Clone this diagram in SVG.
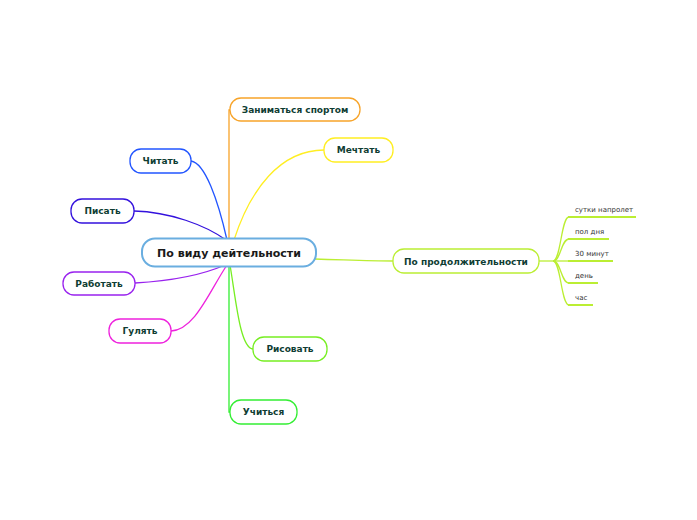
<svg xmlns="http://www.w3.org/2000/svg" width="697" height="520" viewBox="0 0 697 520">
<style>
.n{fill:#fff;stroke-width:1.3}
.t{font-family:"DejaVu Sans",Verdana,sans-serif;font-weight:bold;font-size:9px;fill:#0f3d33;text-anchor:middle}
.s{font-family:"DejaVu Sans",Verdana,sans-serif;font-size:7px;fill:#333}
.c{fill:none;stroke-width:1.3}
</style>
<rect width="697" height="520" fill="#fff"/>
<g id="connectors">
<path class="c" stroke="#f7a42a" stroke-width="2" d="M229 240 V110 H231"/>
<path class="c" stroke="#ffee22" d="M234 240 C250 190 280 150 324 150"/>
<path class="c" stroke="#2255ff" d="M191 161 C205 163 218 200 227 240"/>
<path class="c" stroke="#3311dd" d="M134 211 C170 212 205 225 226 240"/>
<path class="c" stroke="#9922ee" d="M135 283 C170 281 200 276 225 265"/>
<path class="c" stroke="#ee22dd" d="M171 331 C195 330 210 290 227 265"/>
<path class="c" stroke="#77ee22" d="M230 265 C236 300 240 348 253 349"/>
<path class="c" stroke="#33ee33" stroke-width="2" d="M229 265 V412 H231"/>
<path class="c" stroke="#bbee33" d="M315 259 C350 260 370 261 393 261"/>
<g stroke="#bbee33" class="c">
<path d="M539 261 H553"/>
<path d="M553 261 C561 261 561 217 569 217"/>
<path d="M553 261 C561 261 561 239 569 239"/>
<path d="M553 261 H569"/>
<path d="M553 261 C561 261 561 283 569 283"/>
<path d="M553 261 C561 261 561 305 569 305"/>
</g>
<g stroke="#bbee33" stroke-width="2" fill="none">
<path d="M568 217 H636"/>
<path d="M568 239 H609"/>
<path d="M568 261 H613"/>
<path d="M568 283 H598"/>
<path d="M568 305 H593"/>
</g>
</g>
<g id="center">
<rect x="142" y="238.5" width="174" height="28" rx="13" fill="#fff" stroke="#6aaee0" stroke-width="2"/>
<text x="229" y="256.5" class="t" style="font-size:11px;fill:#1a1a1a">По виду дейтельности</text>
</g>
<g id="sport"><rect class="n" x="230" y="98" width="130" height="23" rx="11" stroke="#f7a42a"/><text class="t" x="295" y="113">Заниматься спортом</text></g>
<g id="dream"><rect class="n" x="324" y="138" width="69" height="24" rx="11" stroke="#ffee22"/><text class="t" x="358.5" y="153">Мечтать</text></g>
<g id="read"><rect class="n" x="130" y="149" width="61" height="24" rx="11" stroke="#2255ff"/><text class="t" x="160.5" y="164">Читать</text></g>
<g id="write"><rect class="n" x="71" y="199" width="63" height="24" rx="11" stroke="#3311dd"/><text class="t" x="102.5" y="214">Писать</text></g>
<g id="work"><rect class="n" x="63" y="272" width="72" height="23" rx="11" stroke="#9922ee"/><text class="t" x="99" y="287">Работать</text></g>
<g id="walk"><rect class="n" x="109" y="319" width="62" height="24" rx="11" stroke="#ee22dd"/><text class="t" x="140" y="334">Гулять</text></g>
<g id="draw"><rect class="n" x="253" y="337" width="74" height="24" rx="11" stroke="#77ee22"/><text class="t" x="290" y="352">Рисовать</text></g>
<g id="study"><rect class="n" x="230" y="400" width="67" height="24" rx="11" stroke="#33ee33"/><text class="t" x="263.5" y="415">Учиться</text></g>
<g id="duration"><rect class="n" x="393" y="249" width="146" height="24" rx="11" stroke="#bbee33"/><text class="t" x="466" y="264.5">По продолжительности</text></g>
<g id="d1"><text class="s" x="575" y="212">сутки напролет</text></g>
<g id="d2"><text class="s" x="575" y="234">пол дня</text></g>
<g id="d3"><text class="s" x="575" y="256">30 минут</text></g>
<g id="d4"><text class="s" x="575" y="278">день</text></g>
<g id="d5"><text class="s" x="575" y="300">час</text></g>
</svg>
